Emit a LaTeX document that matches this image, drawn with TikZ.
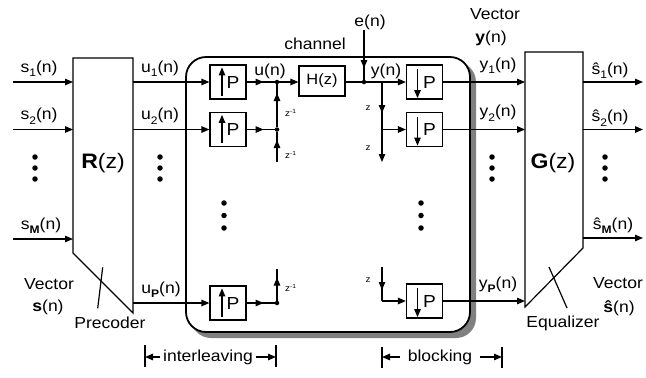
\documentclass[tikz,border=0pt]{standalone}
\usepackage{fontspec}
\setmainfont{Liberation Sans}[FakeStretch=1.1]
\usetikzlibrary{arrows.meta,decorations.markings}
\newcommand\lsub[1]{\raisebox{-0.28em}{\fontsize{11}{11}\selectfont #1}}
\tikzset{
 ln/.style={line width=1.2bp},
 arr/.style={-{Triangle[length=8bp,width=6.5bp]}},
 marrow/.style={postaction={decorate},decoration={markings,mark=at position #1 with {\arrow{Triangle[length=8bp,width=6.5bp]}}}},
 blk/.style={draw,line width=1.2bp,minimum width=36bp,minimum height=34bp,inner sep=0pt,font=\fontsize{17.5}{18}\selectfont},
 lbl/.style={inner sep=0pt,font=\fontsize{16}{18}\selectfont},
 tiny/.style={inner sep=0pt,font=\fontsize{9}{10}\selectfont},
 jdot/.style={circle,fill,inner sep=0pt,minimum size=4.5bp},
 bdot/.style={circle,fill,inner sep=0pt,minimum size=5.5bp},
}
\begin{document}
\begin{tikzpicture}[x=1bp,y=-1bp]
\useasboundingbox (0,0) rectangle (646,377);
% channel enclosure with shadow
\fill[black!50,rounded corners=20bp] (191,62) rectangle (476,338);
\draw[line width=1.8bp,fill=white,rounded corners=20bp] (186,57) rectangle (470,332);

% precoder and equalizer
\draw[ln] (73,58) -- (133,58) -- (133,313) -- (73,253) -- cycle;
\draw[ln] (97.7,308.3) -- (102.7,267.3);
\draw[ln] (525,52) -- (583,52) -- (583,248) -- (525,307) -- cycle;
\draw[ln] (549,267) -- (567,308);
\node[lbl] (Rz) at (103,163) {\fontsize{21}{22}\selectfont\textbf{R}(z)};
\node[lbl] (Gz) at (553,163) {\fontsize{21}{22}\selectfont\textbf{G}(z)};

% inputs
\coordinate (s1a) at (13,82);  \coordinate (s1b) at (73,82);
\coordinate (s2a) at (13,129.5); \coordinate (s2b) at (73,129.5);
\coordinate (sMa) at (13,239); \coordinate (sMb) at (73,239);
\draw[ln,arr] (s1a) -- (s1b);
\draw[ln,arr] (s2a) -- (s2b);
\draw[ln,arr] (sMa) -- (sMb);

% expander boxes
\node[blk] (up1) at (228,82) {\hspace{10bp}P};
\node[blk] (up2) at (228,129.5) {\hspace{10bp}P};
\node[blk] (upP) at (228,303) {\hspace{10bp}P};
\foreach \b in {up1,up2,upP}
  \draw[ln,arr] ([xshift=-6bp,yshift=4bp]\b.south) -- ([xshift=-6bp,yshift=-3bp]\b.north);

% decimator boxes
\node[blk] (dn1) at (424.5,82) {\hspace{10bp}P};
\node[blk] (dn2) at (424.5,129.5) {\hspace{10bp}P};
\node[blk] (dnP) at (424.5,301) {\hspace{10bp}P};
\foreach \b in {dn1,dn2,dnP}
  \draw[ln,arr] ([xshift=-7bp,yshift=-5bp]\b.north) -- ([xshift=-7bp,yshift=1.5bp]\b.south);

% channel
\node[blk,minimum width=46bp,minimum height=30bp,font=\fontsize{15}{16}\selectfont] (H) at (322,81) {H(z)};

% precoder outputs
\coordinate (u1a) at (133,82); \coordinate (u2a) at (133,129.5); \coordinate (uPa) at (133,303);
\draw[ln,arr] (u1a) -- (up1.west);
\draw[ln,arr] (u2a) -- (up2.west);
\draw[ln,arr] (uPa) -- (upP.west);

% interleaving junctions
\node[jdot] (j1) at (277,82) {};
\node[jdot] (j2) at (277,129.5) {};
\node[jdot] (jP) at (277,303) {};
\draw[ln,marrow=17bp] (up1.east) -- (j1);
\draw[ln,marrow=17bp] (up2.east) -- (j2);
\draw[ln,marrow=17bp] (upP.east) -- (jP);
\coordinate (c2b) at (277,162);
\coordinate (cPt) at (277,269);
\draw[ln,marrow=22bp] (c2b) -- (j2);
\draw[ln,marrow=34bp] (j2) -- (j1);
\draw[ln,marrow=23bp] (jP) -- (cPt);
\draw[ln,arr] (j1) -- (j1 -| H.west);

% noise and blocking
\node[jdot] (je) at (364,82) {};
\draw[ln] (H.east |- je) -- (je);
\node[lbl,anchor=south] (e) at (370,30) {e(n)};
\draw[ln,marrow=38bp] (e.south -| je) -- (je);
\coordinate (b1) at (382,82);
\coordinate (b2) at (382,129.5);
\coordinate (b3) at (382,162);
\coordinate (bPt) at (382,267);
\coordinate (bP) at (382,301);
\draw[ln] (je) -- (b1);
\draw[ln,arr] (b1) -- (dn1.west);
\draw[ln,marrow=31bp] (b1) -- (b2);
\draw[ln,arr] (b2) -- (b3);
\draw[ln,arr] (b2) -- (dn2.west);
\draw[ln,marrow=23bp] (bPt) -- (bP);
\draw[ln,arr] (bP) -- (dnP.west);

% decimator outputs
\coordinate (y1G) at (525,82); \coordinate (y2G) at (525,129.5); \coordinate (yPG) at (525,301);
\draw[ln,arr] (dn1.east) -- (y1G);
\draw[ln,arr] (dn2.east) -- (y2G);
\draw[ln,arr] (dnP.east) -- (yPG);

% equalizer outputs
\coordinate (g1) at (583,82); \coordinate (o1) at (643,82);
\coordinate (g2) at (583,129.5); \coordinate (o2) at (643,129.5);
\coordinate (gM) at (583,238); \coordinate (oM) at (643,238);
\draw[ln,arr] (g1) -- (o1);
\draw[ln,arr] (g2) -- (o2);
\draw[ln,arr] (gM) -- (oM);

% delay labels
\node[tiny,anchor=west] (zi1) at (285,113) {z\raisebox{3bp}{\fontsize{6}{6}\selectfont -1}};
\node[tiny,anchor=west] (zi2) at (285,155) {z\raisebox{3bp}{\fontsize{6}{6}\selectfont -1}};
\node[tiny,anchor=west] (ziP) at (285,288) {z\raisebox{3bp}{\fontsize{6}{6}\selectfont -1}};
\node[tiny] (zd1) at (368,108) {z};
\node[tiny] (zd2) at (368,148) {z};
\node[tiny] (zdP) at (368,280) {z};

% vertical dots
\foreach \x/\n in {35/a,160/b,492/c,605/d}{
  \node[bdot] (d\n1) at (\x,157) {};
  \node[bdot] (d\n2) at (\x,168) {};
  \node[bdot] (d\n3) at (\x,179) {};
}
\foreach \x/\n in {224/e,421/f}{
  \node[bdot] (d\n1) at (\x,203) {};
  \node[bdot] (d\n2) at (\x,215.5) {};
  \node[bdot] (d\n3) at (\x,228) {};
}

% signal labels
\node[lbl,anchor=south] (ls1) at (39,77) {s\lsub{1}(n)};
\node[lbl,anchor=south] (ls2) at (39,124.5) {s\lsub{2}(n)};
\node[lbl,anchor=south] (lsM) at (41,234) {s\lsub{\textbf{M}}(n)};
\node[lbl,anchor=south] (lu1) at (160,77) {u\lsub{1}(n)};
\node[lbl,anchor=south] (lu2) at (160,124.5) {u\lsub{2}(n)};
\node[lbl,anchor=south] (luP) at (161,298) {u\lsub{\textbf{P}}(n)};
\node[lbl,anchor=south] (lu) at (270,79) {u(n)};
\node[lbl,anchor=south] (ly) at (386,79) {y(n)};
\node[lbl] (lch) at (315,44) {channel};
\node[lbl,anchor=south] (ly1) at (498,74) {y\lsub{1}(n)};
\node[lbl,anchor=south] (ly2) at (498,121.5) {y\lsub{2}(n)};
\node[lbl,anchor=south] (lyP) at (498,293) {y\lsub{\textbf{P}}(n)};
\node[lbl,anchor=south] (lo1) at (610,79) {ŝ\lsub{1}(n)};
\node[lbl,anchor=south] (lo2) at (610,126.5) {ŝ\lsub{2}(n)};
\node[lbl,anchor=south] (loM) at (613,234) {ŝ\lsub{\textbf{M}}(n)};
\node[lbl] (vy1) at (495,14) {Vector};
\node[lbl] (vy2) at (491,38) {\textbf{y}(n)};
\node[lbl] (vs1) at (49,284) {Vector};
\node[lbl] (vs2) at (48,307) {\textbf{s}(n)};
\node[lbl] (vh1) at (618,283) {Vector};
\node[lbl] (vh2) at (619,308) {\textbf{ŝ}(n)};
\node[lbl] (pre) at (110,323) {Precoder};
\node[lbl] (equ) at (563,323) {Equalizer};

% interleaving / blocking spans
\node[lbl,inner xsep=2.5bp] (il) at (208,357) {interleaving};
\coordinate (ilL1) at (145,345); \coordinate (ilL2) at (145,367);
\coordinate (ilR1) at (276,345); \coordinate (ilR2) at (276,367);
\draw[ln] (ilL1) -- (ilL2);
\draw[ln] (ilR1) -- (ilR2);
\draw[ln,arr] (il.west) -- (il.west -| ilL1);
\draw[ln,arr] (il.east) -- (il.east -| ilR1);
\node[lbl,inner xsep=8bp] (bl) at (440,357) {blocking};
\coordinate (blL1) at (382,347); \coordinate (blL2) at (382,368);
\coordinate (blR1) at (502,347); \coordinate (blR2) at (502,368);
\draw[ln] (blL1) -- (blL2);
\draw[ln] (blR1) -- (blR2);
\draw[ln,arr] (bl.west) -- (bl.west -| blL1);
\draw[ln,arr] (bl.east) -- (bl.east -| blR1);
\end{tikzpicture}
\end{document}
